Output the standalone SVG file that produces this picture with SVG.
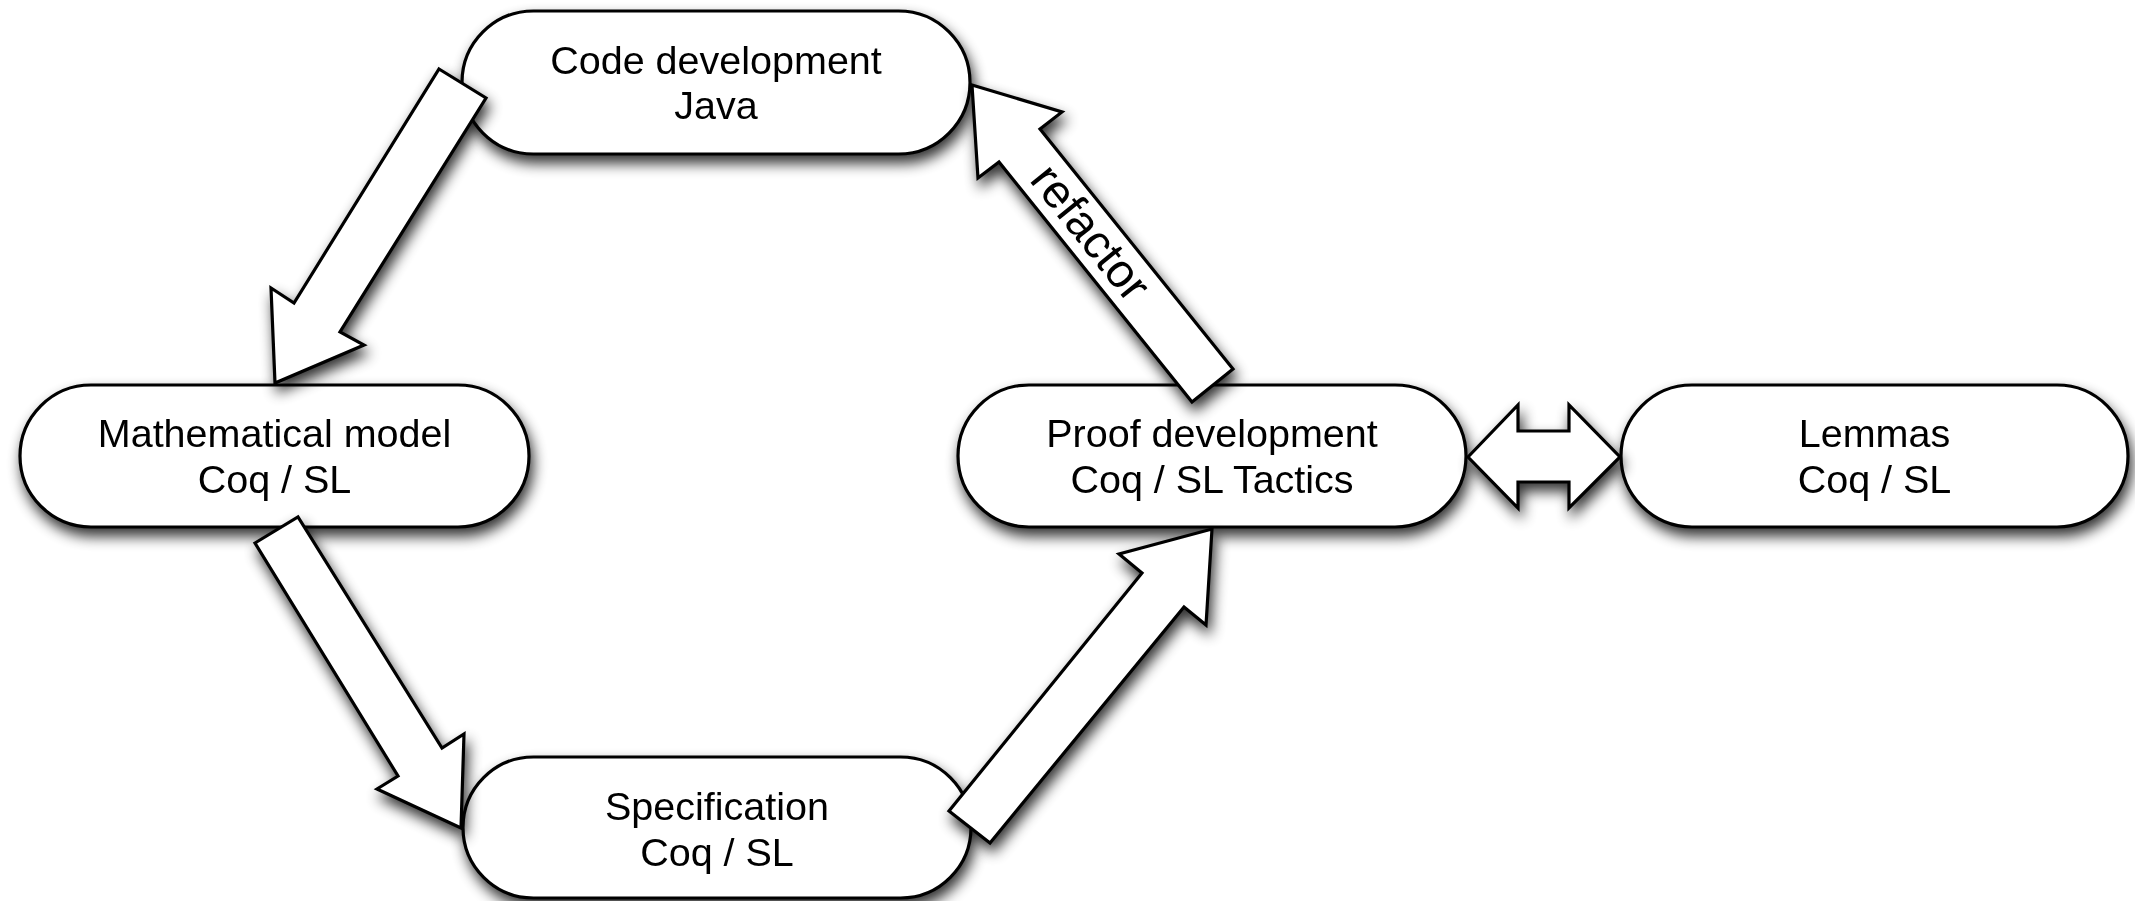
<svg xmlns="http://www.w3.org/2000/svg" width="2135" height="901" viewBox="0 0 2135 901">
<defs>
<filter id="sh" x="-20%" y="-20%" width="140%" height="150%">
<feGaussianBlur in="SourceAlpha" stdDeviation="7"/>
<feOffset dx="3" dy="8" result="b"/>
<feComponentTransfer><feFuncA type="linear" slope="0.8"/></feComponentTransfer>
<feMerge><feMergeNode/><feMergeNode in="SourceGraphic"/></feMerge>
</filter>
<style>
.box{fill:#fff;stroke:#000;stroke-width:3.2}
.arr{fill:#fff;stroke:#000;stroke-width:3.2;stroke-linejoin:miter}
text{font-family:"Liberation Sans",Arial,Helvetica,sans-serif;font-size:39.5px;fill:#000;text-anchor:middle}
.lbl{font-size:47px}
</style>
</defs>
<rect width="2135" height="901" fill="#fff"/>
<g id="node-code" filter="url(#sh)">
<rect class="box" x="462" y="11" width="508" height="143" rx="71.5" ry="71.5"/>
<text x="716" y="74">Code development</text>
<text x="716" y="119">Java</text>
</g>
<g id="node-math" filter="url(#sh)">
<rect class="box" x="20" y="385" width="509" height="142" rx="71" ry="71"/>
<text x="274.5" y="447">Mathematical model</text>
<text x="274.5" y="493">Coq / SL</text>
</g>
<g id="node-proof" filter="url(#sh)">
<rect class="box" x="958" y="385" width="508" height="142" rx="71" ry="71"/>
<text x="1212" y="447">Proof development</text>
<text x="1212" y="493">Coq / SL Tactics</text>
</g>
<g id="node-lemmas" filter="url(#sh)">
<rect class="box" x="1621" y="385" width="507" height="142" rx="71" ry="71"/>
<text x="1874.5" y="447">Lemmas</text>
<text x="1874.5" y="493">Coq / SL</text>
</g>
<g id="node-spec" filter="url(#sh)">
<rect class="box" x="463" y="757" width="508" height="141" rx="70.5" ry="70.5"/>
<text x="717" y="820">Specification</text>
<text x="717" y="866">Coq / SL</text>
</g>
<g id="connectors" filter="url(#sh)">
<polygon class="arr" points="439,69 486,98 340,332 364,345 275,383 271,288 294,303"/>
<polygon class="arr" points="255,543 298,517 442,748 464,734 461,828 377,789 398,776"/>
<polygon class="arr" points="1212,529 1206,625 1184,607 990,843 949,811 1142,573 1119,554"/>
<polygon class="arr" points="972,85 1062,112 1040,129 1233,369 1192,402 999,162 978,178"/>
<polygon class="arr" points="1468,457 1518,405 1518,431 1569,431 1569,405 1620,457 1569,508 1569,482 1518,482 1518,508"/>
<text class="lbl" transform="translate(1090,233) rotate(51.2)" x="0" y="15">refactor</text>
</g>
</svg>
